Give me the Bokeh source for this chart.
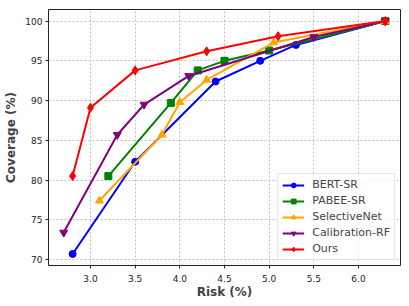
from bokeh.plotting import figure
from bokeh.embed import file_html
from bokeh.resources import INLINE
from bokeh.models import FixedTicker, PrintfTickFormatter, Range1d, Legend, LegendItem

bert_x = [2.8, 3.5, 4.4, 4.9, 5.3, 6.3]
bert_y = [70.7, 82.3, 92.4, 95.0, 97.0, 100.0]
pabee_x = [3.2, 3.9, 4.2, 4.5, 5.0, 6.3]
pabee_y = [80.5, 89.7, 93.8, 95.0, 96.3, 100.0]
selnet_x = [3.1, 3.8, 4.0, 4.3, 5.05, 6.3]
selnet_y = [77.4, 85.7, 89.8, 92.6, 97.3, 100.0]
calib_x = [2.7, 3.3, 3.6, 4.1, 5.5, 6.3]
calib_y = [73.4, 85.7, 89.5, 93.1, 98.0, 100.0]
ours_x = [2.8, 3.0, 3.5, 4.3, 5.1, 6.3]
ours_y = [80.5, 89.1, 93.8, 96.2, 98.1, 100.0]

x_ticks = [3.0, 3.5, 4.0, 4.5, 5.0, 5.5, 6.0]
y_ticks = [70, 75, 80, 85, 90, 95, 100]

p = figure(width=409, height=306, output_backend="svg", toolbar_location=None,
           x_range=Range1d(2.53, 6.47), y_range=Range1d(69.25, 101.46),
           min_border_left=48, min_border_right=9, min_border_top=9, min_border_bottom=41)
p.background_fill_color = "white"
p.border_fill_color = "white"
p.outline_line_color = "#222222"
p.outline_line_width = 1

series = [
    ("BERT-SR", bert_x, bert_y, "blue", "circle", 7),
    ("PABEE-SR", pabee_x, pabee_y, "green", "square", 7),
    ("SelectiveNet", selnet_x, selnet_y, "orange", "triangle", 8),
    ("Calibration-RF", calib_x, calib_y, "purple", "inverted_triangle", 8),
    ("Ours", ours_x, ours_y, "red", "diamond", 9),
]

items = []
for name, xs, ys, color, marker, size in series:
    r1 = p.line(xs, ys, line_color=color, line_width=2)
    r2 = p.scatter(xs, ys, marker=marker, size=size, fill_color=color, line_color=color)
    items.append(LegendItem(label=name, renderers=[r1, r2]))

legend = Legend(items=items, location="bottom_right")
legend.label_text_font = "DejaVu Sans"
legend.label_text_font_size = "11px"
legend.glyph_width = 22
legend.glyph_height = 12
legend.label_height = 12
legend.spacing = 3
legend.padding = 4
legend.margin = 5
legend.label_standoff = 8
legend.border_line_color = "#cccccc"
legend.border_line_width = 1
legend.background_fill_alpha = 0.8
p.add_layout(legend)

p.xaxis.ticker = FixedTicker(ticks=x_ticks)
p.yaxis.ticker = FixedTicker(ticks=y_ticks)
p.xaxis.formatter = PrintfTickFormatter(format="%.1f")
p.xaxis.axis_label = "Risk (%)"
p.yaxis.axis_label = "Coverage (%)"
for ax in (p.xaxis, p.yaxis):
    ax.axis_label_text_font = "DejaVu Sans"
    ax.axis_label_text_font_style = "bold"
    ax.axis_label_text_font_size = "12px"
    ax.major_label_text_font = "DejaVu Sans"
    ax.major_label_text_font_size = "9px"
    ax.major_label_text_color = "#222222"
    ax.axis_line_color = None
    ax.major_tick_line_color = "#222222"
    ax.major_tick_out = 3
    ax.major_tick_in = 0
    ax.minor_tick_line_color = None
p.xaxis.major_label_standoff = 6
p.xaxis.axis_label_standoff = 0
p.yaxis.major_label_standoff = 3
p.yaxis.axis_label_standoff = 4

p.xgrid.grid_line_color = "#b0b0b0"
p.ygrid.grid_line_color = "#b0b0b0"
p.xgrid.grid_line_dash = "2 2"
p.ygrid.grid_line_dash = "2 2"
p.xgrid.grid_line_width = 0.8
p.ygrid.grid_line_width = 0.8

open("out.html", "w").write(file_html(p, INLINE))
